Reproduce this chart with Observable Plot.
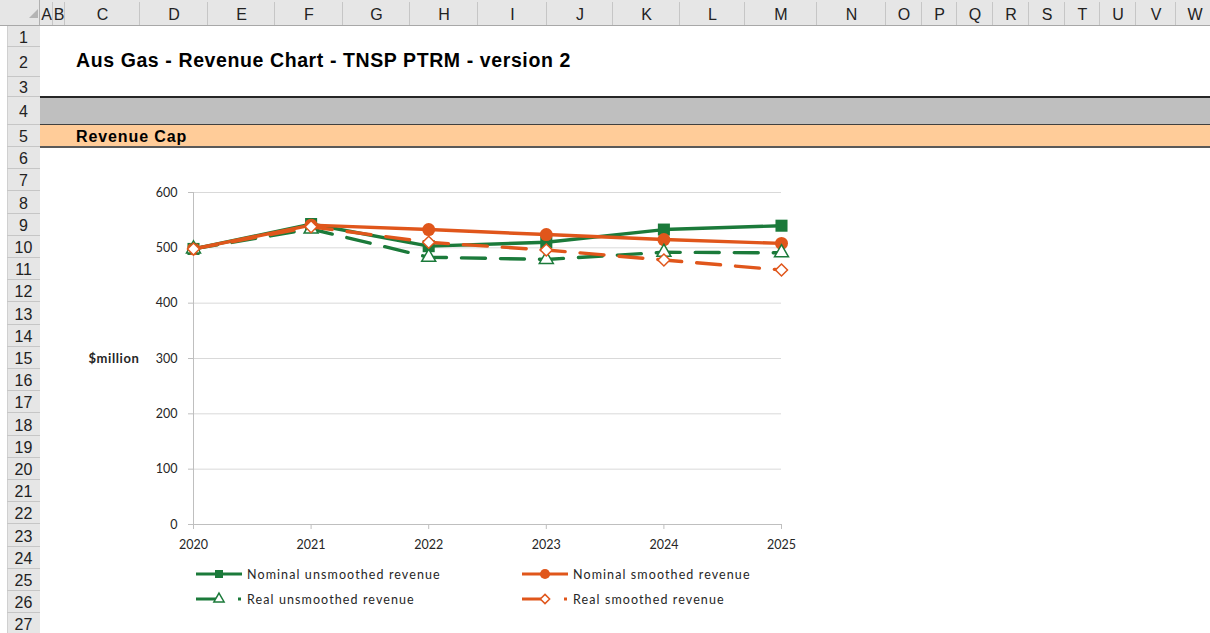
<!DOCTYPE html>
<html><head><meta charset="utf-8">
<script src="https://cdn.jsdelivr.net/npm/d3@7"></script>
<script src="https://cdn.jsdelivr.net/npm/@observablehq/plot@0.6"></script>
<style>
body{margin:0;width:1210px;height:633px;overflow:hidden;background:#fff;position:relative;font-family:"Liberation Sans",Arial,sans-serif}
#sheet{position:absolute;left:0;top:0}
#chart{position:absolute;left:40px;top:170px}
#legend{position:absolute;left:0;top:560px}
</style></head><body>
<svg id="sheet" width="1210" height="633"></svg>
<div id="chart"></div>
<svg id="legend" width="820" height="55"></svg>
<script>
// ---------- data ----------
const years = [2020, 2021, 2022, 2023, 2024, 2025];
const nominalUnsmoothed = [498, 543, 503, 510, 533, 540];
const nominalSmoothed   = [498, 541, 533, 524, 515, 508];
const realUnsmoothed    = [498, 534, 483, 479, 492, 491];
const realSmoothed      = [498, 538, 510, 496, 478, 460];
const yTicks = [0, 100, 200, 300, 400, 500, 600];
const seriesNames = ["Nominal unsmoothed revenue", "Nominal smoothed revenue", "Real unsmoothed revenue", "Real smoothed revenue"];
const yLabel = "$million";
const titleText = "Aus Gas - Revenue Chart - TNSP PTRM - version 2";
const sectionText = "Revenue Cap";
const colLetters = ["A","B","C","D","E","F","G","H","I","J","K","L","M","N","O","P","Q","R","S","T","U","V","W"];
const rowNumbers = d3.range(1, 28);

// ---------- sheet layout ----------
const colEdges = [40,53,65,140,208,275,343,410,478,547,613,680,745,817,886,922,957,993,1029,1065,1100,1136,1176,1214];
const rowEdges = [26,47,77,97,125,147];
for (let n = 6; n <= 27; n++) rowEdges.push(147 + (n - 5) * 22.2);

const sheet = d3.select("#sheet");
// column header
sheet.append("rect").attr("x",0).attr("y",0).attr("width",1210).attr("height",26).attr("fill","#e6e6e6");
sheet.append("path").attr("d","M38,9L38,18L29,18Z").attr("fill","#b4b4b4");
colLetters.forEach((c,i)=>{
  const x0 = colEdges[i], x1 = colEdges[i+1];
  sheet.append("line").attr("x1",x1-0.5).attr("x2",x1-0.5).attr("y1",2).attr("y2",26).attr("stroke","#c6c6c6");
  sheet.append("text").attr("x",(x0+x1)/2).attr("y",19.5).attr("text-anchor","middle")
    .attr("font-size",16).attr("fill","#222").text(c);
});
sheet.append("line").attr("x1",40-0.5).attr("x2",40-0.5).attr("y1",0).attr("y2",633).attr("stroke","#b0b0b0");
// row header
sheet.append("rect").attr("x",7).attr("y",26).attr("width",33).attr("height",607).attr("fill","#e6e6e6");
sheet.append("line").attr("x1",7.5).attr("x2",7.5).attr("y1",26).attr("y2",633).attr("stroke","#d0d0d0");
rowNumbers.forEach((r,i)=>{
  const y0 = rowEdges[i], y1 = rowEdges[i+1];
  sheet.append("line").attr("x1",7).attr("x2",40).attr("y1",Math.round(y1)-0.5).attr("y2",Math.round(y1)-0.5).attr("stroke","#c6c6c6");
  sheet.append("text").attr("x",23.5).attr("y",(y0+y1)/2+6).attr("text-anchor","middle")
    .attr("font-size",16).attr("fill","#222").text(r);
});
sheet.append("line").attr("x1",0).attr("x2",1210).attr("y1",25.5).attr("y2",25.5).attr("stroke","#a8a8a8");
// bands rows 4 and 5
sheet.append("rect").attr("x",40).attr("y",97).attr("width",1170).attr("height",28).attr("fill","#bfbfbf");
sheet.append("rect").attr("x",40).attr("y",125).attr("width",1170).attr("height",22).attr("fill","#ffcc99");
sheet.append("line").attr("x1",40).attr("x2",1210).attr("y1",97).attr("y2",97).attr("stroke","#262626").attr("stroke-width",2);
sheet.append("line").attr("x1",40).attr("x2",1210).attr("y1",124.5).attr("y2",124.5).attr("stroke","#404040").attr("stroke-width",1);
sheet.append("line").attr("x1",40).attr("x2",1210).attr("y1",147).attr("y2",147).attr("stroke","#595959").attr("stroke-width",2);
// titles
sheet.append("text").attr("x",76).attr("y",67).attr("font-size",19.5).attr("font-weight","bold")
  .style("letter-spacing","0.6px").attr("fill","#000").text(titleText);
sheet.append("text").attr("x",76).attr("y",142).attr("font-size",16).attr("font-weight","bold")
  .style("letter-spacing","0.9px").attr("fill","#000").text(sectionText);

// ---------- chart ----------
const GREEN = "#1b7a3a", ORANGE = "#e0561b";
const series = [
  {name: seriesNames[0], values: nominalUnsmoothed, color: GREEN,  dash: null,   symbol: "square",   r: 6.8, fill: GREEN,  sw: 0},
  {name: seriesNames[1], values: nominalSmoothed,   color: ORANGE, dash: null,   symbol: "circle",   r: 6.5, fill: ORANGE, sw: 0},
  {name: seriesNames[2], values: realUnsmoothed,    color: GREEN,  dash: "24,15", symbol: "triangle", r: 5.2, fill: "#fff", sw: 1.5},
  {name: seriesNames[3], values: realSmoothed,      color: ORANGE, dash: "24,15", symbol: "diamond2", r: 5.4, fill: "#fff", sw: 1.5}
];

const seriesMarks = series.flatMap(s => {
  const rows = years.map((year, i) => ({year, value: s.values[i]}));
  return [
    Plot.line(rows, {x: "year", y: "value", stroke: s.color, strokeWidth: 3.4, strokeLinejoin: "round",
      strokeLinecap: "round", strokeDasharray: s.dash ?? undefined}),
    Plot.dot(rows, {x: "year", y: "value", symbol: () => s.symbol, r: s.r, fill: s.fill,
      stroke: s.color, strokeWidth: s.sw})
  ];
});

const chart = Plot.plot({
  width: 770,
  height: 390,
  marginLeft: 153,
  marginRight: 29,
  marginTop: 22,
  marginBottom: 36,
  style: {fontFamily: "Lato, 'Open Sans', sans-serif", fontSize: "12.5px", background: "transparent", overflow: "visible"},
  x: {domain: [2020, 2025]},
  y: {domain: [0, 600]},
  symbol: {type: "identity"},
  marks: [
    Plot.gridY(yTicks, {stroke: "#d9d9d9", strokeOpacity: 1}),
    Plot.axisY(yTicks, {label: null, tickSize: 5, tickPadding: 11, stroke: "#bfbfbf", fill: "#262626", fontSize: 12.5, tickFormat: d => String(d)}),
    Plot.axisX(years, {label: null, tickSize: 5, tickPadding: 11, stroke: "#bfbfbf", fill: "#262626", fontSize: 12.5, tickFormat: d => String(d)}),
    Plot.ruleX([2020], {stroke: "#bfbfbf"}),
    Plot.ruleY([0], {stroke: "#bfbfbf"}),
    ...seriesMarks,
    Plot.text([yLabel], {text: d => d, frameAnchor: "left", dx: -54, textAnchor: "end",
      fontWeight: "bold", fontSize: 13, fill: "#262626"})
  ]
});
document.getElementById("chart").appendChild(chart);
d3.select(chart).selectAll("text").filter(function(){ return this.textContent === yLabel; }).style("letter-spacing","0.6px");

// ---------- legend ----------
const legend = d3.select("#legend");
const legendPos = [
  {x: 196, y: 14}, {x: 522, y: 14}, {x: 196, y: 39}, {x: 522, y: 39}
];
const legendSizes = [64, 80, 45, 55];
series.forEach((s, i) => {
  const p = legendPos[i];
  const g = legend.append("g").attr("transform", `translate(${p.x},${p.y})`);
  g.append("line").attr("x1", 0).attr("x2", 46).attr("y1", 0).attr("y2", 0)
    .attr("stroke", s.color).attr("stroke-width", 3.2)
    .attr("stroke-dasharray", s.dash ? "25,17,3,10" : null);
  g.append("path").attr("transform", "translate(23,0)")
    .attr("d", d3.symbol(s.symbol === "square" ? d3.symbolSquare : s.symbol === "circle" ? d3.symbolCircle : s.symbol === "triangle" ? d3.symbolTriangle : d3.symbolDiamond2, legendSizes[i])())
    .attr("fill", s.fill).attr("stroke", s.color).attr("stroke-width", s.sw);
  g.append("text").attr("x", 51).attr("y", 4.5).attr("font-family", "Lato, 'Open Sans', sans-serif")
    .attr("font-size", 12.5).style("letter-spacing", "1.1px").attr("fill", "#262626").text(s.name);
});
</script>
</body></html>
